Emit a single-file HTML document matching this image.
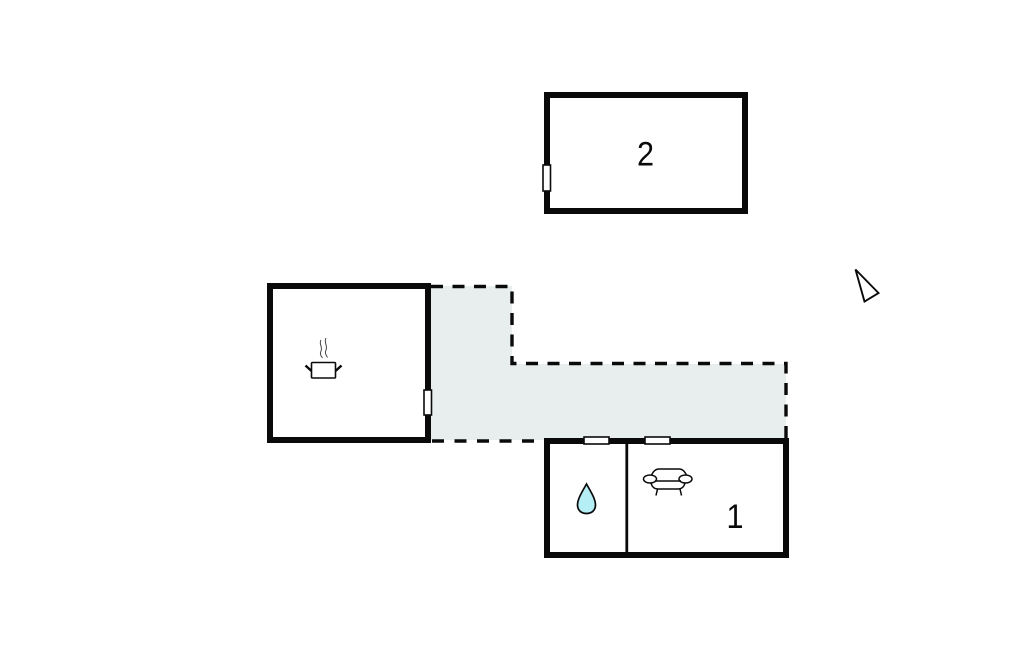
<!DOCTYPE html>
<html><head><meta charset="utf-8"><style>
html,body{margin:0;padding:0;background:#fff;width:1024px;height:652px;overflow:hidden}
svg{display:block}
text{font-family:"Liberation Sans",sans-serif;fill:#0a0a0a}
</style></head><body>
<svg width="1024" height="652" viewBox="0 0 1024 652" xmlns="http://www.w3.org/2000/svg">
<polygon points="430,286 512,286 512,364 786,364 786,440 430,440" fill="#e8eeee"/>
<g fill="none" stroke="#0a0a0a" stroke-width="3.400">
<path d="M431 286.500H512V363.500H786V438" stroke-dasharray="12 9.500"/>
<path d="M431 441H546" stroke-dasharray="12 10.500" stroke-dashoffset="-1"/>
</g>
<g fill="none" stroke="#0a0a0a" stroke-width="6">
<rect x="547" y="95" width="198" height="116"/>
<rect x="270" y="286" width="158" height="154"/>
<rect x="547" y="441" width="239" height="114"/>
</g>
<path d="M626.800 441V555" stroke="#0a0a0a" stroke-width="2.800"/>
<g fill="#fff" stroke="#0a0a0a" stroke-width="1.600">
<rect x="543" y="165" width="7.500" height="26"/>
<rect x="424" y="390" width="7.500" height="25"/>
<rect x="584" y="437" width="25" height="7"/>
<rect x="645" y="437" width="25" height="7"/>
</g>
<path d="M586.500 484C582 492 577.500 499 577.500 505C577.500 510.500 581.500 513.500 586.500 513.500C591.500 513.500 595.500 510.500 595.500 505C595.500 499 591 492 586.500 484Z" fill="#b5eef5" stroke="#0a0a0a" stroke-width="1.700"/>
<g fill="none" stroke="#0a0a0a">
<rect x="311.500" y="362.500" width="24" height="15.500" rx="1" fill="#fff" stroke-width="1.600"/>
<path d="M305.500 365.500L311.500 371M341.500 365.500L335.500 371" stroke-width="2.400"/>
<path d="M321 340C318.500 344 323 347 321 351C319.500 354 321 356 322.500 358M326 338C323.500 342 328 346 326 350C324.500 353 326 355 327.500 357.500" stroke-width="1" stroke="#444"/>
<g stroke-width="1.500">
<path d="M651 476C653 472 655 469 659 469H679C683 469 685 472 687 476"/>
<ellipse cx="650" cy="479" rx="6.500" ry="4" fill="#fff"/>
<ellipse cx="685.500" cy="479" rx="6.500" ry="4" fill="#fff"/>
<path d="M655 481H681M651 483C652 487 654 489 658 489H678C682 489 684 487 685 483"/>
<path d="M657.500 489L656 495.500M680 489L681.500 495.500"/>
</g>
</g>
<polygon points="855.500,269.500 878.500,293 864.500,301.500" fill="#fff" stroke="#0a0a0a" stroke-width="1.900" stroke-linejoin="miter"/>
<text transform="translate(645.500 165.500) scale(.9 1)" font-size="34" text-anchor="middle">2</text>
<text transform="translate(735 528) scale(.9 1)" font-size="34" text-anchor="middle">1</text>
</svg>
</body></html>
